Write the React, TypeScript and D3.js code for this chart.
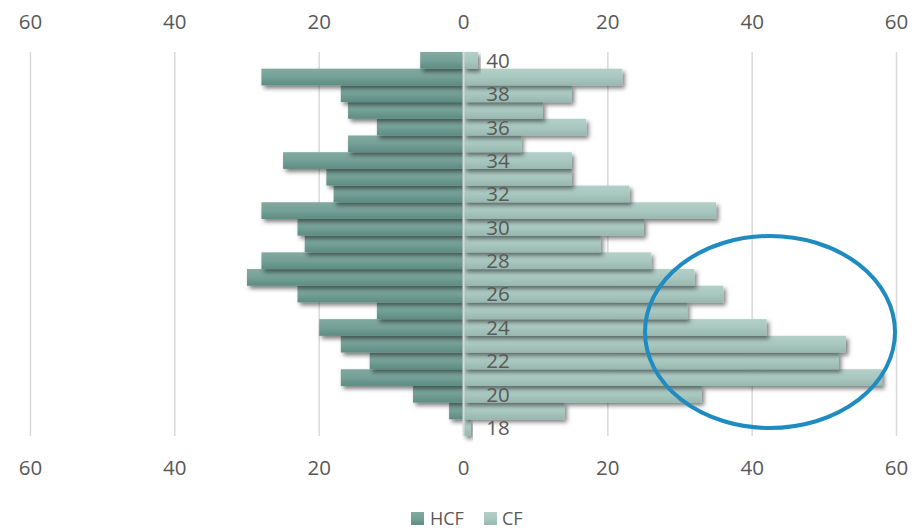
import React from "react";
import * as d3 from "d3";

const ages = [18,19,20,21,22,23,24,25,26,27,28,29,30,31,32,33,34,35,36,37,38,39,40];
const hcf = [0,2,7,17,13,17,20,12,23,30,28,22,23,28,18,19,25,16,12,16,17,28,6];
const cf = [1,14,33,58,52,53,42,31,36,32,26,19,25,35,23,15,15,8,17,11,15,22,2];
const ticks = [-60,-40,-20,0,20,40,60];
const ageLabels = [18,20,22,24,26,28,30,32,34,36,38,40];
const seriesNames = ["HCF","CF"];

const W = 918, H = 530;
const font = "'Open Sans', 'Noto Sans', sans-serif";

export default function App() {
  const x = d3.scaleLinear().domain([-60, 60]).range([30.5, 896.5]);
  const y = d3.scaleBand<number>().domain([...ages].reverse()).range([52, 436]).padding(0);
  const bw = y.bandwidth();
  return (
    <svg width={W} height={H} style={{ position: "absolute", left: 0, top: 0, display: "block", background: "#fff" }}>
      <defs>
        <linearGradient id="gH" x1="0" y1="0" x2="0" y2="1">
          <stop offset="0" stopColor="#82a99f" />
          <stop offset="0.5" stopColor="#74a096" />
          <stop offset="1" stopColor="#5d8c81" />
        </linearGradient>
        <linearGradient id="gC" x1="0" y1="0" x2="0" y2="1">
          <stop offset="0" stopColor="#b3cfc8" />
          <stop offset="0.5" stopColor="#a9c8c0" />
          <stop offset="1" stopColor="#98b8af" />
        </linearGradient>
        <filter id="sh" x="-10%" y="-30%" width="130%" height="190%">
          <feDropShadow dx="2.5" dy="3" stdDeviation="2" floodColor="#000" floodOpacity="0.5" />
        </filter>
      </defs>
      {ticks.filter(t => t !== 0).map(t => (
        <line key={"g" + t} x1={x(t)} x2={x(t)} y1={52} y2={436} stroke="#d9d9d9" strokeWidth={1.5} />
      ))}
      <g>
        {ages.map((a, i) => (
          <rect key={"h" + a} x={x(-hcf[i])} y={y(a)} width={x(0) - x(-hcf[i])} height={bw} fill="url(#gH)" filter={hcf[i] > 0 ? "url(#sh)" : undefined} />
        ))}
        {ages.map((a, i) => (
          <rect key={"c" + a} x={x(0)} y={y(a)} width={x(cf[i]) - x(0)} height={bw} fill="url(#gC)" filter="url(#sh)" />
        ))}
      </g>
      <line x1={x(0)} x2={x(0)} y1={52} y2={436} stroke="#d9d9d9" strokeWidth={2} />
      {ageLabels.map(a => (
        <text key={"a" + a} x={498} y={y(a)! + bw / 2} dy="0.36em" textAnchor="middle" fontFamily={font} fontSize={20.5} fill="#595959">{a}</text>
      ))}
      {ticks.map(t => (
        <g key={"t" + t}>
          <text x={x(t)} y={22} dy="0.36em" textAnchor="middle" fontFamily={font} fontSize={20.5} fill="#595959">{Math.abs(t)}</text>
          <text x={x(t)} y={468} dy="0.36em" textAnchor="middle" fontFamily={font} fontSize={20.5} fill="#595959">{Math.abs(t)}</text>
        </g>
      ))}
      <ellipse cx={770} cy={332} rx={125} ry={96} fill="none" stroke="#1f8bc0" strokeWidth={4} />
      <g fontFamily={font} fontSize={18} fill="#595959">
        <rect x={411} y={512} width={13} height={13} fill="url(#gH)" />
        <text x={430} y={518.5} dy="0.36em">{seriesNames[0]}</text>
        <rect x={484} y={512} width={13} height={13} fill="url(#gC)" />
        <text x={502} y={518.5} dy="0.36em">{seriesNames[1]}</text>
      </g>
    </svg>
  );
}
